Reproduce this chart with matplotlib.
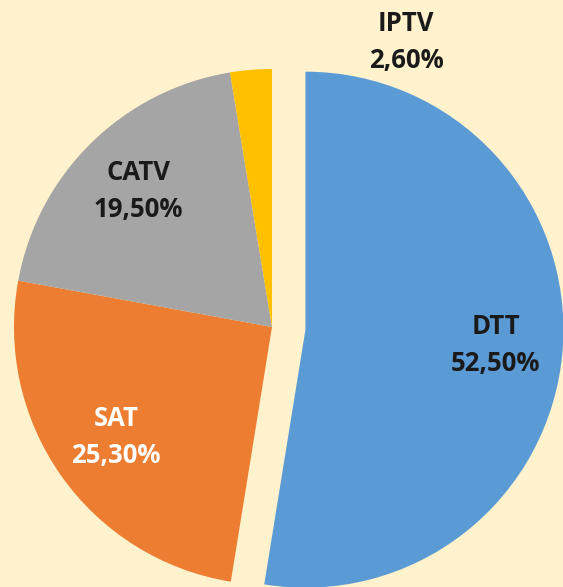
import matplotlib.pyplot as plt

# pie data (Excel style, decimal comma)
categories = ["DTT", "SAT", "CATV", "IPTV"]
shares = [52.5, 25.3, 19.5, 2.6]
colors = ["#5B9BD5", "#ED7D31", "#A5A5A5", "#FFC000"]
text_colors = ["#1a1a1a", "white", "#1a1a1a", "#1a1a1a"]

bg = "#FFF2CC"

fig = plt.figure(figsize=(5.63, 5.87), dpi=100, facecolor=bg)
ax = fig.add_axes([0, 0, 1, 1])
ax.set_facecolor(bg)

labels = [f"{c}\n{v:.2f}%".replace(".", ",") for c, v in zip(categories, shares)]

wedges, texts = ax.pie(shares, colors=colors, startangle=90, counterclock=False,
                       explode=[0.13, 0, 0, 0], labels=labels, labeldistance=0.74,
                       wedgeprops=dict(linewidth=0))

for t, tc in zip(texts, text_colors):
    t.set_color(tc)
    t.set_fontsize(18.5)
    t.set_fontweight("bold")
    t.set_family("Open Sans")
    t.set_ha("center")
    t.set_va("center")
    t.set_linespacing(1.5)

# IPTV label sits outside the pie, above the gap
texts[3].set_position((0.52, 1.105))

# pixel mapping: center (272, 327), radius 258 px
ax.set_xlim(-272 / 258, (563 - 272) / 258)
ax.set_ylim(-(587 - 327) / 258, 327 / 258)
ax.set_aspect("equal")
ax.axis("off")

fig.savefig("out.png", dpi=100, facecolor=bg)
